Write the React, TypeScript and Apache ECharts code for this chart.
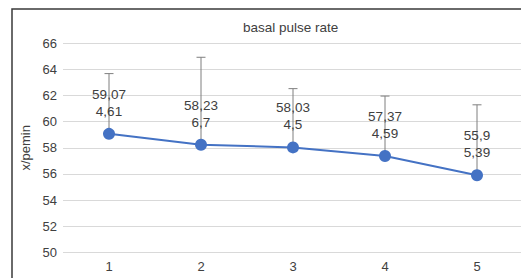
import React, { useEffect, useRef } from "react";
import * as echarts from "echarts";

const categories = ["1", "2", "3", "4", "5"];
const means = [59.07, 58.23, 58.03, 57.37, 55.9];
const sds = [4.61, 6.7, 4.5, 4.59, 5.39];
const yMin = 50;
const yMax = 66;
const yInterval = 2;
const titleText = "basal pulse rate";
const yName = "x/pemin";

const fmt = (v: number) => String(v).replace(".", ",");

export default function App() {
  const ref = useRef<HTMLDivElement>(null);
  useEffect(() => {
    if (!ref.current) return;
    const chart = echarts.init(ref.current, null, { renderer: "svg" });
    const font = "Liberation Sans, Arial, sans-serif";
    chart.setOption({
      animation: false,
      textStyle: { fontFamily: font },
      title: {
        text: titleText,
        left: 243,
        top: 20,
        padding: 0,
        textStyle: { fontSize: 13.5, fontWeight: "normal", color: "#404040", fontFamily: font },
      },
      graphic: [
        {
          type: "rect",
          shape: { x: 12, y: 9, width: 700, height: 500 },
          style: { fill: "none", stroke: "#3a3a3a", lineWidth: 1.5 },
          z: 100,
        },
      ],
      grid: { left: 63, top: 43.3, width: 460, height: 209 },
      xAxis: {
        type: "category",
        data: categories,
        axisLine: { show: false },
        axisTick: { show: false },
        axisLabel: { color: "#404040", fontSize: 13, margin: 8, fontFamily: font },
      },
      yAxis: {
        type: "value",
        min: yMin,
        max: yMax,
        interval: yInterval,
        name: yName,
        nameLocation: "middle",
        nameGap: 28,
        nameTextStyle: { color: "#404040", fontSize: 13, fontFamily: font },
        axisLine: { show: false },
        axisTick: { show: false },
        axisLabel: { color: "#404040", fontSize: 13, margin: 6, fontFamily: font },
        splitLine: { lineStyle: { color: "#d9d9d9", width: 1 } },
      },
      series: [
        {
          type: "custom",
          z: 1,
          data: means.map((m, i) => [i, m, sds[i]]),
          renderItem: (params: any, api: any) => {
            const x = api.value(0);
            const m = api.value(1);
            const e = api.value(2);
            const p0 = api.coord([x, m]);
            const p1 = api.coord([x, m + e]);
            const style = { stroke: "#7f7f7f", lineWidth: 1 };
            return {
              type: "group",
              children: [
                { type: "line", shape: { x1: p0[0], y1: p0[1], x2: p1[0], y2: p1[1] }, style },
                { type: "line", shape: { x1: p1[0] - 4.5, y1: p1[1], x2: p1[0] + 4.5, y2: p1[1] }, style },
              ],
            };
          },
        },
        {
          type: "line",
          z: 2,
          data: means,
          symbol: "circle",
          symbolSize: 12,
          lineStyle: { color: "#4472C4", width: 2 },
          itemStyle: { color: "#4472C4" },
          label: {
            show: true,
            position: "top",
            distance: 8,
            color: "#404040",
            fontSize: 13.5,
            lineHeight: 17,
            fontFamily: font,
            formatter: (p: any) => fmt(means[p.dataIndex]) + "\n" + fmt(sds[p.dataIndex]),
          },
        },
      ],
    });
    return () => chart.dispose();
  }, []);
  return (
    <div
      ref={ref}
      style={{ position: "fixed", left: 0, top: 0, width: 530, height: 278, background: "#fff" }}
    />
  );
}
